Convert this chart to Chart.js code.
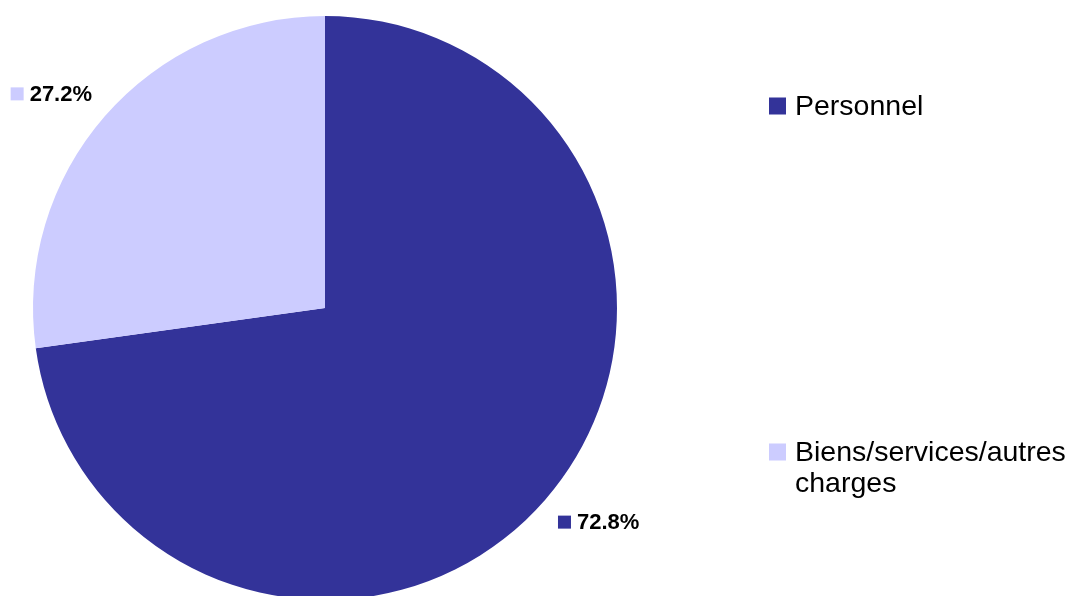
<!DOCTYPE html>
<html>
<head>
<meta charset="utf-8">
<script src="https://cdn.jsdelivr.net/npm/chart.js@4"></script>
<style>
  html, body { margin: 0; padding: 0; background: #fff; }
  #cadre { width: 1072px; height: 596px; overflow: hidden; }
</style>
</head>
<body>
<div id="cadre"><canvas id="graphique" width="1072" height="604"></canvas></div>
<script>
// Répartition des dépenses
const categories = ['Personnel', 'Biens/services/autres charges'];
const legendeLignes = [['Personnel'], ['Biens/services/autres', 'charges']];
const valeurs = [72.8, 27.2];
const couleurs = ['#333399', '#CCCCFF'];

// Étiquettes de valeur et légende dessinées à la main
const etiquettesPlugin = {
  id: 'etiquettes',
  afterDraw(chart) {
    const ctx = chart.ctx;
    const arcs = chart.getDatasetMeta(0).data;
    ctx.save();
    ctx.textBaseline = 'middle';

    // pourcentages autour du camembert
    ctx.font = 'bold 22px "Liberation Sans", Arial, sans-serif';
    arcs.forEach((arc, i) => {
      const p = arc.getProps(['x', 'y', 'startAngle', 'endAngle', 'outerRadius'], true);
      const milieu = (p.startAngle + p.endAngle) / 2 - 3 * Math.PI / 180;
      const r = p.outerRadius * 1.19;
      const cx = p.x + Math.cos(milieu) * r;
      const cy = p.y + Math.sin(milieu) * r;
      const texte = valeurs[i].toFixed(1) + '%';
      const largeur = 13 + 6 + ctx.measureText(texte).width;
      const x0 = cx - largeur / 2;
      ctx.fillStyle = couleurs[i];
      ctx.fillRect(x0, cy - 6.5, 13, 13);
      ctx.fillStyle = '#000';
      ctx.textAlign = 'left';
      ctx.fillText(texte, x0 + 19, cy + 1);
    });

    // légende à droite
    const lignesY = [106, 452];
    ctx.font = '28.5px "Liberation Sans", Arial, sans-serif';
    legendeLignes.forEach((lignes, i) => {
      const y = lignesY[i];
      ctx.fillStyle = couleurs[i];
      ctx.fillRect(769, y - 8.5, 17, 17);
      ctx.fillStyle = '#000';
      lignes.forEach((l, j) => ctx.fillText(l, 795, y + 1 + j * 31));
    });
    ctx.restore();
  }
};

new Chart(document.getElementById('graphique'), {
  type: 'pie',
  data: {
    labels: categories,
    datasets: [{
      data: valeurs,
      backgroundColor: couleurs,
      borderWidth: 0
    }]
  },
  options: {
    responsive: false,
    animation: false,
    layout: { padding: { left: 33, top: 16, right: 455, bottom: 4 } },
    plugins: {
      legend: { display: false },
      tooltip: { enabled: false }
    }
  },
  plugins: [etiquettesPlugin]
});
</script>
</body>
</html>
